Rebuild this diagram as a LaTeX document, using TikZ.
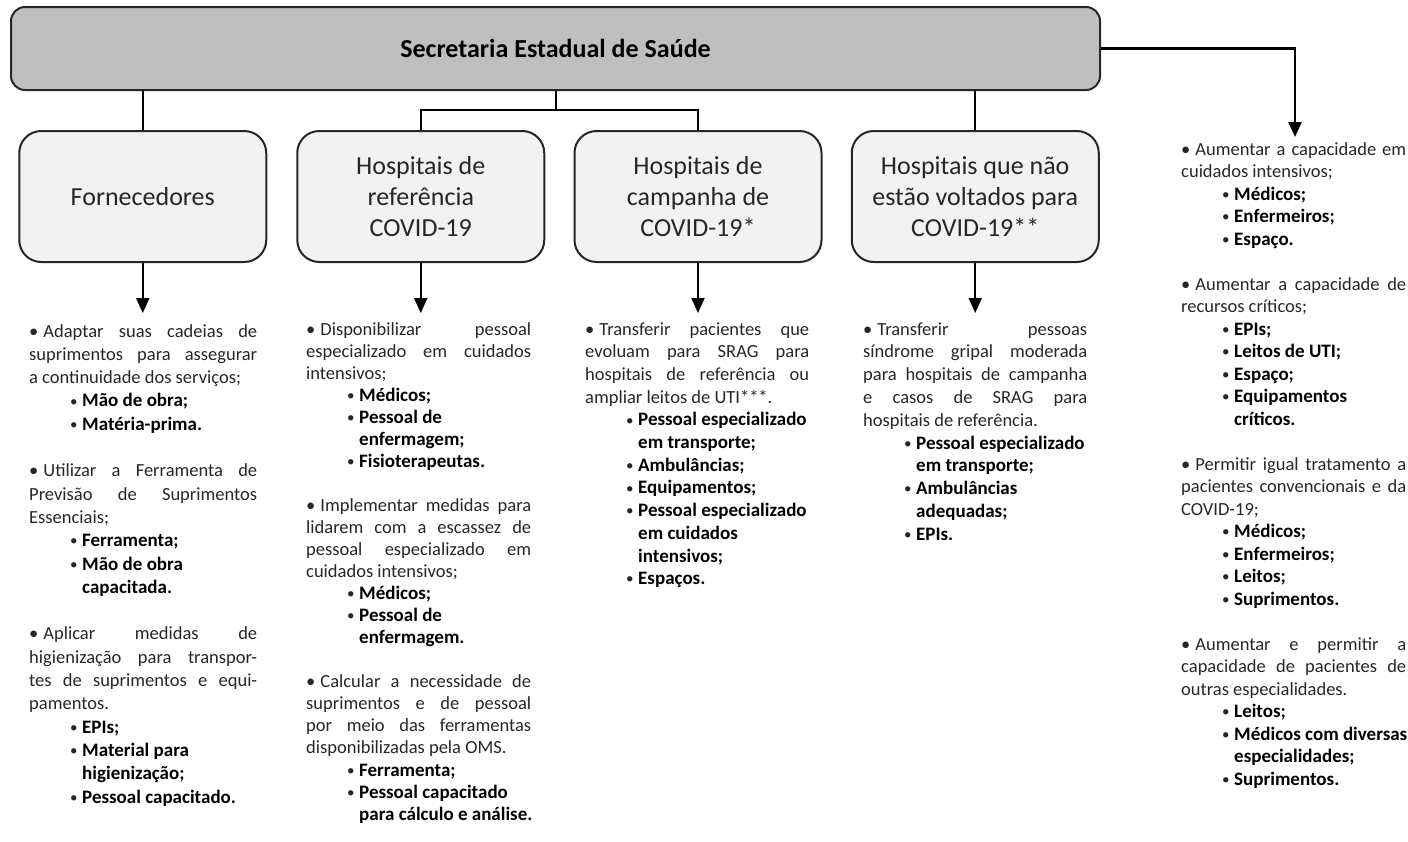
\documentclass[tikz,border=0pt]{standalone}
\usepackage{fontspec}
\setmainfont{Carlito}
\usetikzlibrary{arrows.meta}
\definecolor{topfill}{HTML}{BFBFBF}
\definecolor{boxfill}{HTML}{F2F2F2}
\definecolor{edgec}{HTML}{262626}
\definecolor{txt}{HTML}{262626}
\newcommand\mbul{\textbullet\hspace{5pt}}
\newcommand\sbul{\raisebox{0.8pt}{\fontsize{15}{15}\selectfont\textbullet}}
\newcommand\jline[1]{\hbox to \hsize{#1}}
\newcommand\lline[1]{\hbox{#1}}
\newcommand\sitem[1]{\hbox{\hskip41pt\makebox[12pt][l]{\sbul}{\fontsize{19}{22}\selectfont\bfseries\color{black}#1}}}
\newcommand\scont[1]{\hbox{\hskip53pt{\fontsize{19}{22}\selectfont\bfseries\color{black}#1}}}
\newcommand\blankln{\hbox{}}
\newcommand\colbox[3]{\vtop{\hsize=#1\fontsize{18.5}{#2}\selectfont #3}}
\tikzset{
  topbox/.style={draw=edgec, line width=2pt, fill=topfill, rounded corners=14pt,
    minimum width=1089pt, minimum height=83pt, font=\fontsize{26}{30}\selectfont\bfseries},
  unitbox/.style={draw=edgec, line width=2pt, fill=boxfill, rounded corners=22pt,
    minimum width=247pt, minimum height=131pt, align=center, text=txt,
    font=\fontsize{26}{31}\selectfont},
  conn/.style={draw=black, line width=2pt},
  arr/.style={conn, -{Triangle[length=15pt,width=13pt]}},
  col/.style={anchor=base west, inner sep=0pt, text=txt}
}
\begin{document}
\begin{tikzpicture}[x=1pt,y=-1pt]
\useasboundingbox (0,0) rectangle (1408,841);
\node[topbox] (top) at (555.5,48.5) {Secretaria Estadual de Saúde};
\node[unitbox] (b1) at (142.75,196.5) {Fornecedores};
\node[unitbox] (b2) at (420.75,196.5) {Hospitais de\\referência\\COVID-19};
\node[unitbox] (b3) at (698,196.5) {Hospitais de\\campanha de\\COVID-19*};
\node[unitbox] (b4) at (975.25,196.5) {Hospitais que não\\estão voltados para\\COVID-19**};
% connectors top
\coordinate (mid) at (556,110);
\draw[conn] (top.south -| b1.north) -- (b1.north);
\draw[conn] (top.south -| mid) -- (mid);
\draw[conn] (b2.north) -- (b2.north |- mid) -- (b3.north |- mid) -- (b3.north);
\draw[conn] (top.south -| b4.north) -- (b4.north);
\coordinate (r5) at (1295,137);
\draw[arr, line width=2.5pt] (top.east) -| (r5);
% bottom arrows
\coordinate (a1) at (142.75,313);
\coordinate (a2) at (420.75,313);
\coordinate (a3) at (698,313);
\coordinate (a4) at (975.25,313);
\draw[arr] (b1.south) -- (a1);
\draw[arr] (b2.south) -- (a2);
\draw[arr] (b3.south) -- (a3);
\draw[arr] (b4.south) -- (a4);
% column 1
\node[col] (t1) at (29,337) {\colbox{228pt}{23.3}{%
\jline{\mbul Adaptar\hfill suas\hfill cadeias\hfill de}
\jline{suprimentos\hfill para\hfill assegurar}
\lline{a continuidade dos serviços;}
\sitem{Mão de obra;}
\sitem{Matéria-prima.}
\blankln
\jline{\mbul Utilizar\hfill a\hfill Ferramenta\hfill de}
\jline{Previsão\hfill de\hfill Suprimentos}
\lline{Essenciais;}
\sitem{Ferramenta;}
\sitem{Mão de obra}
\scont{capacitada.}
\blankln
\jline{\mbul Aplicar\hfill medidas\hfill de}
\jline{higienização\hfill para\hfill transpor-}
\jline{tes\hfill de\hfill suprimentos\hfill e\hfill equi-}
\lline{pamentos.}
\sitem{EPIs;}
\sitem{Material para}
\scont{higienização;}
\sitem{Pessoal capacitado.}}};
% column 2
\node[col] (t2) at (306,335) {\colbox{225pt}{22.05}{%
\jline{\mbul Disponibilizar\hfill pessoal}
\jline{especializado\hfill em\hfill cuidados}
\lline{intensivos;}
\sitem{Médicos;}
\sitem{Pessoal de}
\scont{enfermagem;}
\sitem{Fisioterapeutas.}
\blankln
\jline{\mbul Implementar\hfill medidas\hfill para}
\jline{lidarem\hfill com\hfill a\hfill escassez\hfill de}
\jline{pessoal\hfill especializado\hfill em}
\lline{cuidados intensivos;}
\sitem{Médicos;}
\sitem{Pessoal de}
\scont{enfermagem.}
\blankln
\jline{\mbul Calcular\hfill a\hfill necessidade\hfill de}
\jline{suprimentos\hfill e\hfill de\hfill pessoal}
\jline{por\hfill meio\hfill das\hfill ferramentas}
\lline{disponibilizadas pela OMS.}
\sitem{Ferramenta;}
\sitem{Pessoal capacitado}
\scont{para cálculo e análise.}}};
% column 3
\node[col] (t3) at (585,335) {\colbox{224pt}{22.7}{%
\jline{\mbul Transferir\hfill pacientes\hfill que}
\jline{evoluam\hfill para\hfill SRAG\hfill para}
\jline{hospitais\hfill de\hfill referência\hfill ou}
\lline{ampliar leitos de UTI***.}
\sitem{Pessoal especializado}
\scont{em transporte;}
\sitem{Ambulâncias;}
\sitem{Equipamentos;}
\sitem{Pessoal especializado}
\scont{em cuidados}
\scont{intensivos;}
\sitem{Espaços.}}};
% column 4
\node[col] (t4) at (863,335) {\colbox{224pt}{22.8}{%
\jline{\mbul Transferir\hfill pessoas}
\jline{síndrome\hfill gripal\hfill moderada}
\jline{para\hfill hospitais\hfill de\hfill campanha}
\jline{e\hfill casos\hfill de\hfill SRAG\hfill para}
\lline{hospitais de referência.}
\sitem{Pessoal especializado}
\scont{em transporte;}
\sitem{Ambulâncias}
\scont{adequadas;}
\sitem{EPIs.}}};
% column 5
\node[col] (t5) at (1181,155) {\colbox{225pt}{22.5}{%
\jline{\mbul Aumentar\hfill a\hfill capacidade\hfill em}
\lline{cuidados intensivos;}
\sitem{Médicos;}
\sitem{Enfermeiros;}
\sitem{Espaço.}
\blankln
\jline{\mbul Aumentar\hfill a\hfill capacidade\hfill de}
\lline{recursos críticos;}
\sitem{EPIs;}
\sitem{Leitos de UTI;}
\sitem{Espaço;}
\sitem{Equipamentos}
\scont{críticos.}
\blankln
\jline{\mbul Permitir\hfill igual\hfill tratamento\hfill a}
\jline{pacientes\hfill convencionais\hfill e\hfill da}
\lline{COVID-19;}
\sitem{Médicos;}
\sitem{Enfermeiros;}
\sitem{Leitos;}
\sitem{Suprimentos.}
\blankln
\jline{\mbul Aumentar\hfill e\hfill permitir\hfill a}
\jline{capacidade\hfill de\hfill pacientes\hfill de}
\lline{outras especialidades.}
\sitem{Leitos;}
\sitem{Médicos com diversas}
\scont{especialidades;}
\sitem{Suprimentos.}}};
\end{tikzpicture}
\end{document}
